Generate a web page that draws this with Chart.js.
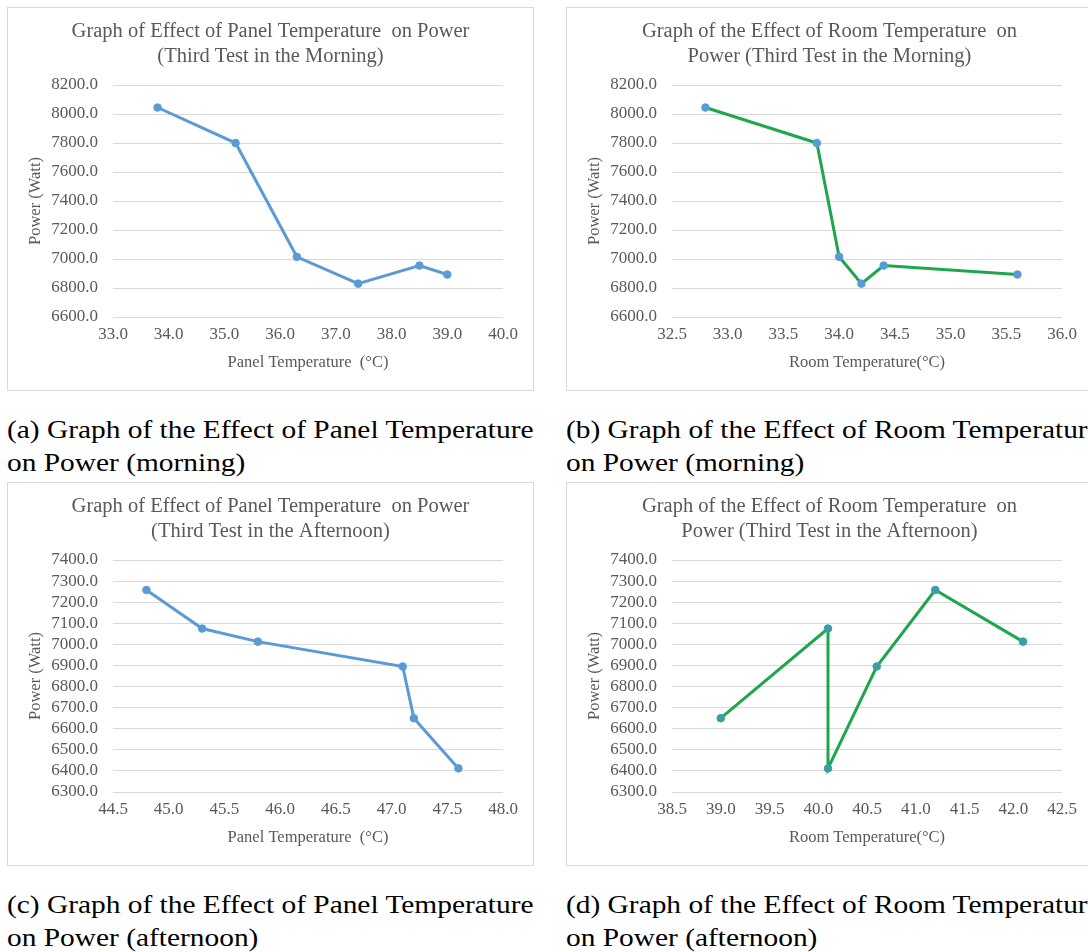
<!DOCTYPE html>
<html>
<head>
<meta charset="utf-8">
<script src="https://cdn.jsdelivr.net/npm/chart.js@4.4.1/dist/chart.umd.min.js"></script>
<style>
html,body{margin:0;padding:0;background:#fff;width:1088px;height:952px;overflow:hidden;position:relative}
.panel{position:absolute;width:527px;height:384px;box-sizing:border-box;border:1px solid #d9d9d9;}
.panel canvas{position:absolute;left:-1px;top:-1px;}
.cap{position:absolute;font-family:'Liberation Serif',serif;font-size:25px;line-height:32.5px;color:#000;white-space:nowrap;transform-origin:0 0;}
</style>
</head>
<body>
<div class="panel" style="left:7px;top:7px"><canvas id="ca" width="527" height="384"></canvas></div>
<div class="panel" style="left:566px;top:7px"><canvas id="cb" width="527" height="384"></canvas></div>
<div class="panel" style="left:7px;top:482px"><canvas id="cc" width="527" height="384"></canvas></div>
<div class="panel" style="left:566px;top:482px"><canvas id="cd" width="527" height="384"></canvas></div>

<div class="cap" id="capA" style="left:7px;top:414px">(a) Graph of the Effect of Panel Temperature<br>on Power (morning)</div>
<div class="cap" id="capB" style="left:566px;top:414px">(b) Graph of the Effect of Room Temperature<br>on Power (morning)</div>
<div class="cap" id="capC" style="left:7px;top:889px">(c) Graph of the Effect of Panel Temperature<br>on Power (afternoon)</div>
<div class="cap" id="capD" style="left:566px;top:889px">(d) Graph of the Effect of Room Temperature<br>on Power (afternoon)</div>

<script>
// ---- data ----
const panelMorningTemp = [33.8, 35.2, 36.3, 37.4, 38.5, 39.0];
const panelMorningPower = [8045, 7800, 7015, 6830, 6955, 6893];
const roomMorningTemp = [32.8, 33.8, 34.0, 34.2, 34.4, 35.6];
const roomMorningPower = [8045, 7800, 7015, 6830, 6955, 6893];
const panelAfternoonTemp = [44.8, 45.3, 45.8, 47.1, 47.2, 47.6];
const panelAfternoonPower = [7258, 7075, 7013, 6895, 6650, 6412];
const roomAfternoonTemp = [39.0, 40.1, 40.1, 40.6, 41.2, 42.1];
const roomAfternoonPower = [6650, 7075, 6412, 6895, 7258, 7013];

// ---- tick labels ----
const panelMorningXTicks = [33.0, 34.0, 35.0, 36.0, 37.0, 38.0, 39.0, 40.0];
const roomMorningXTicks = [32.5, 33.0, 33.5, 34.0, 34.5, 35.0, 35.5, 36.0];
const morningYTicks = [6600, 6800, 7000, 7200, 7400, 7600, 7800, 8000, 8200];
const panelAfternoonXTicks = [44.5, 45.0, 45.5, 46.0, 46.5, 47.0, 47.5, 48.0];
const roomAfternoonXTicks = [38.5, 39.0, 39.5, 40.0, 40.5, 41.0, 41.5, 42.0, 42.5];
const afternoonYTicks = [6300, 6400, 6500, 6600, 6700, 6800, 6900, 7000, 7100, 7200, 7300, 7400];

// ---- texts ----
const titleA = ['Graph of Effect of Panel Temperature  on Power', '(Third Test in the Morning)'];
const titleB = ['Graph of the Effect of Room Temperature  on', 'Power (Third Test in the Morning)'];
const titleC = ['Graph of Effect of Panel Temperature  on Power', '(Third Test in the Afternoon)'];
const titleD = ['Graph of the Effect of Room Temperature  on', 'Power (Third Test in the Afternoon)'];
const panelXTitle = 'Panel Temperature  (\u00B0C)';
const roomXTitle = 'Room Temperature(\u00B0C)';
const yTitle = 'Power (Watt)';

const FONT = "'Liberation Serif', 'Times New Roman', serif";
const GREY = '#595959';
const BLUE = '#5b9bd5';
const GREEN = '#1ea64e';
const TEAL = '#3a9ea6';

function makeChart(id, xs, ys, xTicks, yTicks, title, xTitle, lineColor, pointColor) {
  const pts = xs.map((x, i) => ({x: x, y: ys[i]}));
  return new Chart(document.getElementById(id), {
    type: 'scatter',
    data: {
      datasets: [{
        data: pts,
        showLine: true,
        borderColor: lineColor,
        borderWidth: 3,
        tension: 0,
        pointRadius: 3.8,
        pointBackgroundColor: pointColor,
        pointBorderColor: pointColor,
        pointBorderWidth: 1
      }]
    },
    options: {
      responsive: false,
      animation: false,
      events: [],
      layout: {padding: 0},
      plugins: {
        legend: {display: false},
        tooltip: {enabled: false},
        title: {
          display: true,
          text: title,
          color: GREY,
          font: {family: FONT, size: 20.5, weight: 'normal', lineHeight: 1.22},
          padding: {top: 12.5, bottom: 15.5}
        }
      },
      scales: {
        x: {
          type: 'linear',
          position: 'bottom',
          min: xTicks[0],
          max: xTicks[xTicks.length - 1],
          afterBuildTicks: s => { s.ticks = xTicks.map(v => ({value: v})); },
          afterFit: s => { s.height = 74; },
          ticks: {
            callback: v => Number(v).toFixed(1),
            color: GREY,
            font: {family: FONT, size: 17},
            padding: 7,
            maxRotation: 0,
            autoSkip: false
          },
          grid: {display: false, drawTicks: false},
          border: {display: false},
          title: {
            display: true,
            text: xTitle,
            color: GREY,
            font: {family: FONT, size: 16.5},
            padding: {top: 0, bottom: 18}
          }
        },
        y: {
          type: 'linear',
          position: 'left',
          min: yTicks[0],
          max: yTicks[yTicks.length - 1],
          afterBuildTicks: s => { s.ticks = yTicks.map(v => ({value: v})); },
          afterFit: s => { s.width = 106; },
          ticks: {
            callback: v => Number(v).toFixed(1),
            color: GREY,
            font: {family: FONT, size: 17},
            padding: 15,
            autoSkip: false
          },
          grid: {color: '#d9d9d9', lineWidth: 1, drawTicks: false},
          border: {display: false},
          title: {
            display: true,
            text: yTitle,
            color: GREY,
            font: {family: FONT, size: 16.5},
            padding: {top: 19, bottom: 0}
          }
        },
        y2: {
          type: 'linear',
          position: 'right',
          display: true,
          afterFit: s => { s.width = 31; },
          ticks: {display: false},
          grid: {display: false, drawTicks: false},
          border: {display: false}
        }
      }
    }
  });
}

function fitCaptions() {
  const c = document.createElement('canvas').getContext('2d');
  c.font = "25px 'Liberation Serif'";
  const w = c.measureText('(a) Graph of the Effect of Panel Temperature').width;
  const s = 527 / w;
  ['capA', 'capB', 'capC', 'capD'].forEach(id => {
    document.getElementById(id).style.transform = 'scaleX(' + s + ')';
  });
}

function build() {
  fitCaptions();
  makeChart('ca', panelMorningTemp, panelMorningPower, panelMorningXTicks, morningYTicks, titleA, panelXTitle, BLUE, BLUE);
  makeChart('cb', roomMorningTemp, roomMorningPower, roomMorningXTicks, morningYTicks, titleB, roomXTitle, GREEN, BLUE);
  makeChart('cc', panelAfternoonTemp, panelAfternoonPower, panelAfternoonXTicks, afternoonYTicks, titleC, panelXTitle, BLUE, BLUE);
  makeChart('cd', roomAfternoonTemp, roomAfternoonPower, roomAfternoonXTicks, afternoonYTicks, titleD, roomXTitle, GREEN, TEAL);
}
if (document.fonts && document.fonts.load) {
  document.fonts.load("25px 'Liberation Serif'").then(build, build);
} else {
  build();
}
</script>
</body>
</html>
